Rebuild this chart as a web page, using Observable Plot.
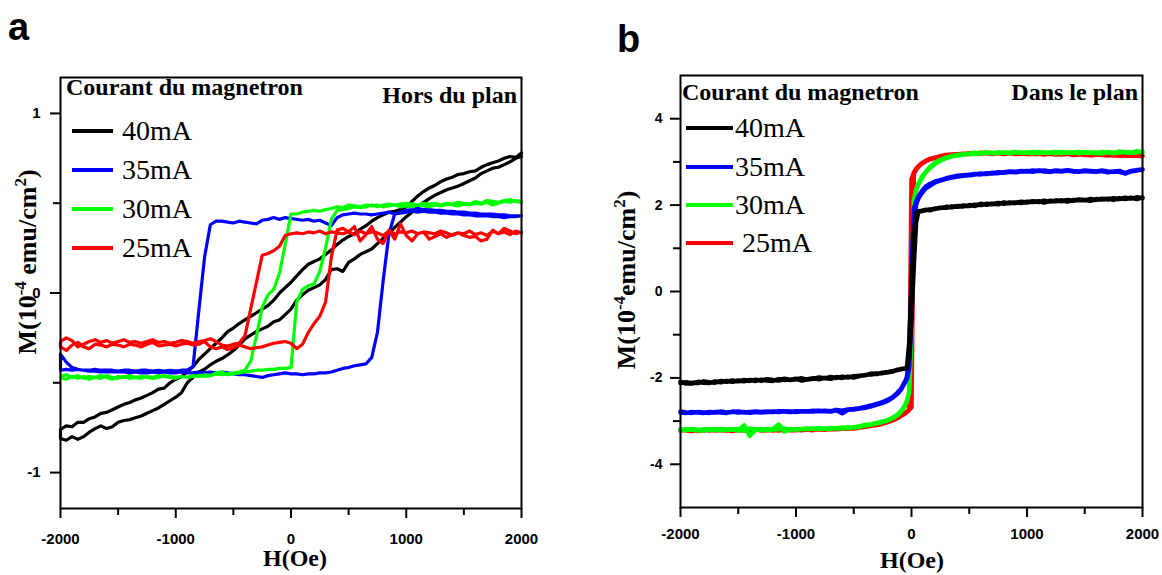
<!DOCTYPE html>
<html>
<head>
<meta charset="utf-8">
<script src="https://cdn.jsdelivr.net/npm/d3@7"></script>
<script src="https://cdn.jsdelivr.net/npm/@observablehq/plot@0.6"></script>
<style>
  html, body { margin: 0; padding: 0; background: #fff; }
  #wrap { position: relative; width: 1162px; height: 575px; overflow: hidden; background: #fff; }
  #wrap svg { position: absolute; top: 0; }
</style>
</head>
<body>
<div id="wrap"></div>
<script>
// ---------------- DATA ----------------
const seriesNames = ["40mA", "35mA", "30mA", "25mA"];
const seriesNamesB = ["40mA", "35mA", "30mA", " 25mA"];
const seriesColors = ["#000000", "#0000ff", "#00ff00", "#ff0000"];
const legendTitle = "Courant du magnetron";
const titleA = "Hors du plan";
const titleB = "Dans le plan";
const xLabel = "H(Oe)";
const xTicksMajor = [-2000, -1000, 0, 1000, 2000];
const xTicksMinor = [-1500, -500, 500, 1500];
const aYMajor = [-1, 0, 1];
const aYMinor = [-0.5, 0.5];
const bYMajor = [-4, -2, 0, 2, 4];
const bYMinor = [-3, -1, 1, 3];

// Panel a field grid (Oe)
const hA = [
  -2000,-1950,-1900,-1850,-1800,-1750,-1700,-1650,-1600,-1550,
  -1500,-1450,-1400,-1350,-1300,-1250,-1200,-1150,-1100,-1050,
  -1000,-950,-900,-850,-800,-750,-700,-650,-600,-550,
  -500,-450,-400,-350,-300,-250,-200,-150,-100,-50,
  0,
  50,100,150,200,250,300,350,400,450,500,
  550,600,650,700,750,800,850,900,950,1000,
  1050,1100,1150,1200,1250,1300,1350,1400,1450,1500,
  1550,1600,1650,1700,1750,1800,1850,1900,1950,2000];

// Panel a, M (1e-4 emu/cm2): "down" = descending-field branch, "up" = ascending-field branch
const a40Down = [
  -0.76,-0.74,-0.745,-0.72,-0.72,-0.70,-0.69,-0.67,-0.665,-0.65,
  -0.635,-0.62,-0.61,-0.595,-0.585,-0.57,-0.555,-0.535,-0.53,-0.50,
  -0.48,-0.465,-0.44,-0.41,-0.37,-0.34,-0.31,-0.28,-0.25,-0.215,
  -0.195,-0.17,-0.15,-0.13,-0.11,-0.09,-0.07,-0.04,0.00,0.03,
  0.06,
  0.095,0.13,0.16,0.175,0.19,0.215,0.24,0.27,0.295,0.315,
  0.33,0.355,0.375,0.40,0.42,0.435,0.45,0.455,0.465,0.48,
  0.51,0.54,0.565,0.585,0.60,0.62,0.635,0.645,0.66,0.665,
  0.675,0.68,0.70,0.715,0.725,0.735,0.75,0.76,0.755,0.78];
const a40Up = [
  -0.81,-0.82,-0.80,-0.815,-0.80,-0.775,-0.755,-0.74,-0.755,-0.745,
  -0.72,-0.71,-0.705,-0.695,-0.685,-0.67,-0.655,-0.64,-0.62,-0.60,
  -0.58,-0.555,-0.50,-0.47,-0.44,-0.425,-0.40,-0.38,-0.365,-0.345,
  -0.32,-0.29,-0.255,-0.235,-0.215,-0.20,-0.185,-0.16,-0.15,-0.12,
  -0.09,
  -0.04,-0.01,0.015,0.03,0.045,0.075,0.13,0.135,0.12,0.17,
  0.19,0.215,0.23,0.245,0.275,0.305,0.33,0.365,0.395,0.425,
  0.45,0.48,0.505,0.525,0.545,0.56,0.575,0.585,0.595,0.61,
  0.625,0.64,0.665,0.68,0.695,0.70,0.715,0.73,0.75,0.76];
const a35Down = [
  -0.43,-0.425,-0.43,-0.425,-0.43,-0.43,-0.425,-0.43,-0.43,-0.43,
  -0.435,-0.43,-0.43,-0.435,-0.43,-0.43,-0.435,-0.43,-0.435,-0.43,
  -0.435,-0.43,-0.43,-0.41,-0.10,0.20,0.38,0.40,0.40,0.395,
  0.39,0.40,0.395,0.39,0.385,0.405,0.41,0.42,0.41,0.42,
  0.415,
  0.41,0.405,0.41,0.40,0.405,0.39,0.375,0.42,0.435,0.44,
  0.445,0.44,0.44,0.435,0.44,0.445,0.45,0.44,0.445,0.45,
  0.455,0.45,0.455,0.45,0.45,0.445,0.445,0.44,0.44,0.435,
  0.435,0.43,0.43,0.43,0.425,0.425,0.42,0.425,0.425,0.43];
const a35Up = [
  -0.34,-0.385,-0.415,-0.425,-0.43,-0.435,-0.435,-0.44,-0.44,-0.44,
  -0.44,-0.44,-0.445,-0.44,-0.445,-0.445,-0.44,-0.445,-0.44,-0.445,
  -0.445,-0.44,-0.445,-0.445,-0.44,-0.445,-0.44,-0.445,-0.44,-0.445,
  -0.45,-0.455,-0.455,-0.46,-0.465,-0.47,-0.46,-0.455,-0.45,-0.445,
  -0.45,
  -0.45,-0.455,-0.45,-0.45,-0.445,-0.445,-0.44,-0.43,-0.42,-0.415,
  -0.405,-0.40,-0.395,-0.36,-0.22,0.07,0.33,0.44,0.45,0.46,
  0.465,0.47,0.465,0.465,0.46,0.46,0.455,0.455,0.45,0.45,
  0.445,0.445,0.44,0.44,0.44,0.435,0.435,0.43,0.43,0.43];
const a30Down = [
  -0.465,-0.455,-0.47,-0.46,-0.475,-0.465,-0.47,-0.46,-0.47,-0.48,
  -0.465,-0.47,-0.46,-0.47,-0.475,-0.465,-0.47,-0.46,-0.465,-0.47,
  -0.475,-0.465,-0.47,-0.46,-0.465,-0.455,-0.46,-0.45,-0.455,-0.45,
  -0.445,-0.44,-0.43,-0.38,-0.24,-0.08,-0.01,0.02,0.11,0.27,
  0.44,
  0.44,0.45,0.455,0.46,0.455,0.465,0.47,0.48,0.475,0.49,
  0.485,0.48,0.49,0.485,0.49,0.48,0.485,0.49,0.48,0.485,
  0.48,0.49,0.485,0.48,0.49,0.485,0.495,0.49,0.485,0.495,
  0.49,0.50,0.495,0.505,0.49,0.50,0.51,0.505,0.515,0.51];
const a30Up = [
  -0.47,-0.48,-0.465,-0.475,-0.465,-0.48,-0.47,-0.475,-0.46,-0.47,
  -0.475,-0.465,-0.475,-0.47,-0.465,-0.47,-0.475,-0.47,-0.46,-0.465,
  -0.47,-0.465,-0.47,-0.465,-0.46,-0.465,-0.46,-0.445,-0.44,-0.455,
  -0.45,-0.445,-0.44,-0.435,-0.43,-0.43,-0.425,-0.425,-0.42,-0.42,
  -0.415,
  -0.05,0.02,0.04,0.05,0.12,0.25,0.41,0.46,0.465,0.47,
  0.48,0.475,0.48,0.49,0.48,0.49,0.495,0.49,0.495,0.50,
  0.495,0.49,0.50,0.495,0.50,0.49,0.50,0.495,0.505,0.50,
  0.495,0.51,0.50,0.515,0.51,0.505,0.515,0.52,0.51,0.505];
const a25Down = [
  -0.27,-0.25,-0.265,-0.30,-0.285,-0.27,-0.26,-0.275,-0.265,-0.28,
  -0.27,-0.26,-0.275,-0.27,-0.28,-0.27,-0.26,-0.275,-0.27,-0.28,
  -0.275,-0.265,-0.27,-0.28,-0.27,-0.265,-0.255,-0.27,-0.29,-0.295,
  -0.285,-0.28,-0.24,-0.09,0.06,0.21,0.22,0.235,0.26,0.32,
  0.33,
  0.335,0.33,0.34,0.335,0.345,0.33,0.34,0.335,0.33,0.34,
  0.325,0.345,0.33,0.34,0.335,0.32,0.345,0.33,0.34,0.335,
  0.345,0.33,0.34,0.335,0.33,0.345,0.335,0.32,0.335,0.33,
  0.345,0.325,0.335,0.32,0.345,0.33,0.34,0.325,0.345,0.335];
const a25Up = [
  -0.30,-0.32,-0.29,-0.275,-0.30,-0.31,-0.285,-0.29,-0.30,-0.285,
  -0.29,-0.30,-0.285,-0.29,-0.30,-0.285,-0.275,-0.295,-0.29,-0.285,
  -0.295,-0.285,-0.28,-0.29,-0.285,-0.27,-0.30,-0.31,-0.30,-0.315,
  -0.305,-0.29,-0.30,-0.31,-0.305,-0.30,-0.29,-0.28,-0.275,-0.27,
  -0.28,
  -0.31,-0.285,-0.22,-0.17,-0.13,-0.05,0.20,0.35,0.36,0.34,
  0.37,0.29,0.325,0.37,0.30,0.275,0.35,0.30,0.385,0.32,
  0.29,0.33,0.34,0.30,0.315,0.33,0.31,0.325,0.335,0.32,
  0.31,0.315,0.29,0.30,0.35,0.33,0.36,0.345,0.33,0.34];

// Panel b field grid (Oe)
const hB = [
  -2000,-1950,-1900,-1850,-1800,-1750,-1700,-1650,-1600,-1550,
  -1500,-1450,-1400,-1350,-1300,-1250,-1200,-1150,-1100,-1050,
  -1000,-950,-900,-850,-800,-750,-700,-650,-600,-550,
  -500,-450,
  -400,-350,-300,-250,-200,-160,-120,-90,-60,-40,-20,
  0,
  20,40,60,90,120,160,200,250,300,350,400,
  450,500,550,600,650,700,750,800,850,900,
  950,1000,1050,1100,1150,1200,1250,1300,1350,1400,
  1450,1500,1550,1600,1650,1700,1750,1800,1850,1900,
  1950,2000];

const b40Down = [
  -2.12,-2.10,-2.13,-2.09,-2.11,-2.12,-2.08,-2.10,-2.07,-2.09,
  -2.06,-2.08,-2.05,-2.07,-2.04,-2.06,-2.07,-2.03,-2.05,-2.04,
  -2.02,-2.06,-2.03,-2.01,-2.03,-2.00,-2.02,-1.98,-2.00,-1.97,
  -1.99,-1.96,
  -1.93,-1.92,-1.90,-1.89,-1.87,-1.85,-1.81,-1.80,-1.78,-1.77,-1.20,
  0.10,
  1.30,1.82,1.86,1.87,1.89,1.88,1.92,1.93,1.96,1.95,1.98,
  1.97,2.00,1.98,2.03,2.01,2.03,2.02,2.06,2.04,2.06,
  2.05,2.08,2.07,2.09,2.06,2.10,2.09,2.11,2.08,2.12,
  2.11,2.12,2.10,2.14,2.13,2.15,2.12,2.16,2.14,2.17,
  2.14,2.18];
const b40Up = [
  -2.09,-2.13,-2.11,-2.12,-2.08,-2.10,-2.11,-2.07,-2.09,-2.06,
  -2.08,-2.05,-2.07,-2.04,-2.07,-2.03,-2.05,-2.06,-2.02,-2.05,
  -2.03,-2.01,-2.04,-2.02,-1.99,-2.01,-1.98,-2.00,-1.97,-1.99,
  -1.96,-1.95,
  -1.94,-1.90,-1.91,-1.88,-1.86,-1.84,-1.82,-1.79,-1.79,-1.78,-1.50,
  -0.60,
  0.60,1.60,1.85,1.86,1.88,1.90,1.91,1.94,1.94,1.97,1.96,
  1.99,1.98,2.01,2.00,2.03,2.02,2.05,2.03,2.06,2.05,
  2.08,2.06,2.09,2.07,2.10,2.08,2.11,2.09,2.12,2.10,
  2.13,2.11,2.14,2.12,2.15,2.13,2.16,2.14,2.17,2.15,
  2.18,2.16];
const b35Down = [
  -2.80,-2.81,-2.79,-2.80,-2.81,-2.79,-2.80,-2.78,-2.80,-2.79,
  -2.78,-2.80,-2.79,-2.78,-2.79,-2.78,-2.79,-2.77,-2.78,-2.79,
  -2.77,-2.78,-2.77,-2.78,-2.76,-2.77,-2.78,-2.75,-2.82,-2.74,
  -2.73,-2.71,
  -2.69,-2.66,-2.62,-2.58,-2.52,-2.45,-2.36,-2.27,-2.12,-1.98,-1.50,
  0.40,
  1.90,2.08,2.20,2.32,2.42,2.49,2.54,2.58,2.62,2.65,2.68,
  2.69,2.70,2.72,2.71,2.74,2.73,2.76,2.75,2.77,2.76,
  2.78,2.79,2.77,2.80,2.78,2.77,2.79,2.78,2.80,2.78,
  2.77,2.79,2.78,2.77,2.79,2.76,2.78,2.77,2.73,2.78,
  2.80,2.83];
const b35Up = [
  -2.78,-2.80,-2.81,-2.79,-2.80,-2.81,-2.79,-2.80,-2.81,-2.78,
  -2.80,-2.79,-2.81,-2.79,-2.80,-2.79,-2.78,-2.79,-2.77,-2.78,
  -2.79,-2.77,-2.78,-2.76,-2.77,-2.76,-2.77,-2.74,-2.76,-2.73,
  -2.72,-2.70,
  -2.67,-2.64,-2.60,-2.56,-2.50,-2.44,-2.34,-2.25,-2.10,-2.03,-1.78,
  -0.60,
  1.40,2.02,2.16,2.28,2.38,2.45,2.52,2.57,2.61,2.64,2.66,
  2.68,2.69,2.71,2.73,2.72,2.75,2.74,2.76,2.78,2.77,
  2.79,2.78,2.80,2.79,2.80,2.78,2.80,2.79,2.81,2.79,
  2.78,2.80,2.79,2.78,2.80,2.78,2.77,2.79,2.74,2.79,
  2.81,2.82];
const b30Down = [
  -3.19,-3.21,-3.18,-3.20,-3.22,-3.19,-3.21,-3.18,-3.20,-3.19,
  -3.22,-3.10,-3.34,-3.20,-3.18,-3.21,-3.19,-3.08,-3.24,-3.19,
  -3.20,-3.18,-3.19,-3.17,-3.18,-3.17,-3.18,-3.16,-3.17,-3.15,
  -3.15,-3.13,
  -3.10,-3.08,-3.05,-3.02,-2.98,-2.93,-2.86,-2.78,-2.66,-2.55,-2.32,
  -0.30,
  2.12,2.35,2.50,2.65,2.76,2.88,2.97,3.05,3.10,3.14,3.16,
  3.18,3.19,3.21,3.20,3.22,3.21,3.20,3.22,3.21,3.23,
  3.21,3.22,3.20,3.23,3.21,3.22,3.20,3.23,3.21,3.22,
  3.20,3.23,3.21,3.22,3.20,3.23,3.21,3.24,3.22,3.21,
  3.25,3.22];
const b30Up = [
  -3.21,-3.19,-3.20,-3.22,-3.19,-3.20,-3.18,-3.21,-3.19,-3.20,
  -3.18,-3.22,-3.17,-3.19,-3.21,-3.18,-3.20,-3.19,-3.17,-3.20,
  -3.18,-3.19,-3.17,-3.18,-3.16,-3.18,-3.16,-3.17,-3.15,-3.16,
  -3.14,-3.12,
  -3.09,-3.07,-3.04,-3.01,-2.97,-2.92,-2.85,-2.77,-2.65,-2.53,-2.34,
  -0.90,
  2.08,2.33,2.48,2.63,2.75,2.86,2.95,3.03,3.09,3.13,3.15,
  3.17,3.19,3.18,3.20,3.21,3.20,3.22,3.21,3.20,3.22,
  3.22,3.21,3.23,3.20,3.22,3.21,3.23,3.20,3.22,3.21,
  3.23,3.21,3.22,3.20,3.23,3.22,3.20,3.22,3.23,3.22,
  3.22,3.24];
const b25Down = [
  -3.22,-3.20,-3.21,-3.23,-3.20,-3.22,-3.19,-3.21,-3.22,-3.20,
  -3.21,-3.19,-3.22,-3.20,-3.21,-3.19,-3.22,-3.20,-3.21,-3.19,
  -3.20,-3.21,-3.19,-3.20,-3.19,-3.20,-3.18,-3.19,-3.18,-3.17,
  -3.17,-3.15,
  -3.13,-3.11,-3.09,-3.06,-3.02,-2.98,-2.93,-2.88,-2.83,-2.79,-2.74,
  2.60,
  2.75,2.84,2.90,2.97,3.02,3.07,3.10,3.13,3.16,3.17,3.18,
  3.19,3.18,3.20,3.19,3.21,3.19,3.20,3.18,3.20,3.19,
  3.20,3.18,3.19,3.20,3.18,3.19,3.17,3.19,3.18,3.17,
  3.18,3.16,3.17,3.18,3.16,3.17,3.15,3.16,3.14,3.15,
  3.14,3.13];
const b25Up = [
  -3.20,-3.22,-3.23,-3.21,-3.22,-3.20,-3.22,-3.20,-3.21,-3.23,
  -3.20,-3.22,-3.21,-3.19,-3.22,-3.21,-3.20,-3.22,-3.19,-3.21,
  -3.21,-3.19,-3.20,-3.21,-3.18,-3.19,-3.19,-3.18,-3.17,-3.18,
  -3.16,-3.15,
  -3.12,-3.10,-3.08,-3.05,-3.01,-2.97,-2.92,-2.87,-2.82,-2.78,-2.74,
  -2.68,
  2.72,2.82,2.89,2.96,3.01,3.06,3.09,3.12,3.15,3.16,3.17,
  3.18,3.20,3.19,3.21,3.20,3.18,3.21,3.19,3.20,3.18,
  3.19,3.20,3.18,3.19,3.17,3.20,3.18,3.17,3.19,3.16,
  3.17,3.18,3.15,3.17,3.16,3.15,3.17,3.14,3.16,3.14,
  3.15,3.14];

// ---------------- BUILD ----------------
const SERIF = "'Liberation Serif','Times New Roman',serif";
const SANS = "'Liberation Sans',Arial,Helvetica,sans-serif";

// loop: descending branch from +H to -H, then ascending branch from -H to +H
function loop(h, down, up, name) {
  const rows = [];
  for (let i = h.length - 1; i >= 0; i--) rows.push({H: h[i], M: down[i], s: name});
  for (let i = 0; i < h.length; i++) rows.push({H: h[i], M: up[i], s: name});
  return rows;
}

const loopsA = [
  loop(hA, a40Down, a40Up, seriesNames[0]),
  loop(hA, a35Down, a35Up, seriesNames[1]),
  loop(hA, a30Down, a30Up, seriesNames[2]),
  loop(hA, a25Down, a25Up, seriesNames[3])
];
const loopsB = [
  loop(hB, b40Down, b40Up, seriesNames[0]),
  loop(hB, b35Down, b35Up, seriesNames[1]),
  loop(hB, b30Down, b30Up, seriesNames[2]),
  loop(hB, b25Down, b25Up, seriesNames[3])
];

function axes(yMajor, yMinor, xPad, yPad, yFont) {
  return [
    Plot.frame({stroke: "#000", strokeWidth: 2}),
    Plot.axisX({ticks: xTicksMajor, tickSize: 10, tickPadding: xPad, tickFormat: d => String(d), strokeWidth: 2, label: null}),
    Plot.axisX({ticks: xTicksMinor, tickSize: 7, tickFormat: () => "", strokeWidth: 2, label: null}),
    Plot.axisY({ticks: yMajor, tickSize: 10, tickPadding: yPad, tickFormat: d => String(d), strokeWidth: 2, label: null, fontSize: yFont}),
    Plot.axisY({ticks: yMinor, tickSize: 7, tickFormat: () => "", strokeWidth: 2, label: null})
  ];
}

const styleBase = {fontFamily: SANS, fontSize: "15px", fontWeight: "bold", color: "#000", background: "transparent", overflow: "visible"};

const plotA = Plot.plot({
  width: 581, height: 575,
  marginLeft: 60, marginRight: 60, marginTop: 77, marginBottom: 67,
  x: {domain: [-2000, 2000], label: null},
  y: {domain: [-1.2, 1.2], label: null},
  style: styleBase,
  marks: [
    ...[0, 1, 2, 3].map(i => Plot.line(loopsA[i], {x: "H", y: "M", stroke: seriesColors[i], strokeWidth: 3.2, strokeLinejoin: "round"})),
    ...axes(aYMajor, aYMinor, 15, 10, 15)
  ]
});

const plotB = Plot.plot({
  width: 581, height: 575,
  marginLeft: 99, marginRight: 20, marginTop: 75, marginBottom: 68,
  x: {domain: [-2000, 2000], label: null},
  y: {domain: [-5, 5], label: null},
  style: styleBase,
  marks: [
    ...[3, 2, 1, 0].map(i => Plot.line(loopsB[i], {x: "H", y: "M", stroke: seriesColors[i], strokeWidth: 4.5, strokeLinejoin: "round"})),
    ...axes(bYMajor, bYMinor, 11, 8, 14)
  ]
});

plotA.style.left = "0px";
plotB.style.left = "581px";
const wrap = document.getElementById("wrap");
wrap.appendChild(plotA);
wrap.appendChild(plotB);

// ---------------- ANNOTATIONS ----------------
function addText(sel, x, y, txt, size, family, weight, anchor) {
  return sel.append("text").attr("x", x).attr("y", y)
    .attr("font-family", family).attr("font-size", size).attr("font-weight", weight)
    .attr("text-anchor", anchor || "start").attr("fill", "#000")
    .style("white-space", "pre").text(txt);
}

function decorate(svgNode, cfg) {
  const s = d3.select(svgNode);
  // panel letter
  addText(s, cfg.letterX, cfg.letterY, cfg.letter, 38, SANS, "bold");
  // legend title and panel title
  addText(s, cfg.legX, cfg.legY, legendTitle, 24, SERIF, "bold");
  addText(s, cfg.titleX, cfg.titleY, cfg.title, 24, SERIF, "bold", "end");
  // legend rows
  cfg.names.forEach((name, i) => {
    const y = cfg.rowY[i];
    s.append("line").attr("x1", cfg.lineX1).attr("x2", cfg.lineX2).attr("y1", y).attr("y2", y)
      .attr("stroke", seriesColors[i]).attr("stroke-width", 4);
    addText(s, cfg.textX, y + cfg.textDy, name, 28, SERIF, "normal");
  });
  // x axis label
  addText(s, cfg.xLabX, cfg.xLabY, xLabel, 24, SERIF, "bold", "middle");
  // y axis label with superscripts
  const t = s.append("text")
    .attr("transform", `translate(${cfg.yLabX},${cfg.yLabY}) rotate(-90)`)
    .attr("font-family", SERIF).attr("font-size", 26).attr("font-weight", "bold")
    .attr("text-anchor", "middle").attr("fill", "#000").style("white-space", "pre");
  t.append("tspan").text("M(10");
  t.append("tspan").attr("dy", -10).attr("font-size", 17).text("-4");
  t.append("tspan").attr("dy", 10).text(cfg.ySpace + "emu/cm");
  t.append("tspan").attr("dy", -10).attr("font-size", 17).text("2");
  t.append("tspan").attr("dy", 10).text(")");
}

decorate(plotA, {
  letter: "a", letterX: 8, letterY: 40,
  legX: 66, legY: 95, title: titleA, titleX: 517, titleY: 103,
  names: seriesNames, rowY: [131, 170, 209, 248], lineX1: 72, lineX2: 113, textX: 122, textDy: 8.5,
  xLabX: 295, xLabY: 566, yLabX: 36, yLabY: 262, ySpace: " "
});
decorate(plotB, {
  letter: "b", letterX: 36, letterY: 52,
  legX: 101, legY: 100, title: titleB, titleX: 557, titleY: 100,
  names: seriesNamesB, rowY: [128, 167, 205, 243], lineX1: 105, lineX2: 152, textX: 154, textDy: 9,
  xLabX: 331, xLabY: 568, yLabX: 54, yLabY: 280, ySpace: ""
});
</script>
</body>
</html>
